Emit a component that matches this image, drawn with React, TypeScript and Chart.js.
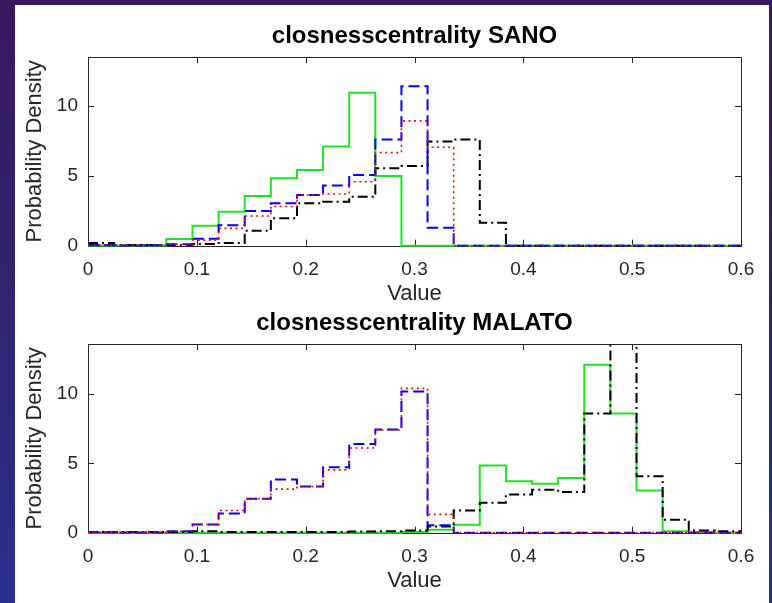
import React, { useEffect, useRef } from "react";
import { Chart, registerables } from "chart.js";

Chart.register(...registerables);

// Histogram bin edges (25 bins of width 0.024 between 0 and 0.6)
const binEdges = [0, 0.024, 0.048, 0.072, 0.096, 0.12, 0.144, 0.168, 0.192, 0.216, 0.24, 0.264, 0.288, 0.312, 0.336, 0.36, 0.384, 0.408, 0.432, 0.456, 0.48, 0.504, 0.528, 0.552, 0.576, 0.6];
const xTicks = [0, 0.1, 0.2, 0.3, 0.4, 0.5, 0.6];
const yTicks = [0, 5, 10];

// closnesscentrality SANO — density per bin
const sanoGreen = [0.02, 0.02, 0.02, 0.48, 1.43, 2.43, 3.56, 4.82, 5.42, 7.09, 10.95, 4.99, 0, 0, 0, 0, 0, 0, 0, 0, 0, 0, 0, 0, 0];
const sanoBlue = [0.05, 0.02, 0.03, 0.1, 0.5, 1.47, 2.48, 3.03, 3.63, 4.3, 5.06, 7.6, 11.4, 1.29, 0, 0, 0, 0, 0, 0, 0, 0, 0, 0, 0];
const sanoRed = [0.05, 0.02, 0.03, 0.08, 0.4, 1.24, 2.13, 2.8, 3.63, 3.7, 4.58, 6.66, 8.93, 7.04, 0, 0, 0, 0, 0, 0, 0, 0, 0, 0, 0];
const sanoBlack = [0.2, 0.05, 0.05, 0.05, 0.12, 0.2, 1.07, 1.96, 3.03, 3.15, 3.5, 5.54, 5.7, 7.45, 7.6, 1.65, 0, 0, 0, 0, 0, 0, 0, 0, 0];

// closnesscentrality MALATO — density per bin
const malatoGreen = [0, 0, 0, 0, 0, 0, 0, 0, 0, 0, 0, 0, 0.05, 0.22, 0.58, 4.84, 3.71, 3.52, 3.95, 12.1, 8.6, 3.04, 0.1, 0.05, 0];
const malatoBlue = [0.03, 0.02, 0.02, 0.1, 0.6, 1.39, 2.45, 3.83, 3.33, 4.72, 6.4, 7.44, 10.17, 0.53, 0, 0, 0, 0, 0, 0, 0, 0, 0, 0, 0];
const malatoRed = [0.03, 0.02, 0.02, 0.1, 0.6, 1.6, 2.45, 3.14, 3.33, 4.53, 6.1, 7.4, 10.4, 1.32, 0, 0, 0, 0, 0, 0, 0, 0, 0, 0, 0];
const malatoBlack = [0.05, 0.05, 0.05, 0.05, 0.1, 0.05, 0.05, 0.05, 0.05, 0.05, 0.08, 0.1, 0.15, 0.45, 1.6, 2.15, 2.75, 3.1, 2.93, 8.6, 13.9, 4.07, 0.94, 0.15, 0.1];

const FONT = "'Liberation Sans', Arial, Helvetica, sans-serif";
const TEXT = "#262626";

function stepPoints(values: number[]) {
  const pts = values.map((v, i) => ({ x: binEdges[i], y: v }));
  pts.push({ x: binEdges[binEdges.length - 1], y: values[values.length - 1] });
  return pts;
}

function makeDatasets(green: number[], blue: number[], red: number[], black: number[]) {
  const base = {
    stepped: "before" as const,
    pointRadius: 0,
    fill: false,
    tension: 0,
    clip: { left: 2, right: 2, bottom: 3, top: 0 },
  };
  return [
    { ...base, data: stepPoints(red), borderColor: "#ff0000", borderWidth: 1.6, borderDash: [2, 3.5] },
    { ...base, data: stepPoints(blue), borderColor: "#0000ff", borderWidth: 2, borderDash: [11, 5] },
    { ...base, data: stepPoints(black), borderColor: "#000000", borderWidth: 2, borderDash: [10, 4, 2, 4] },
    { ...base, data: stepPoints(green), borderColor: "#22e022", borderWidth: 2 },
  ];
}

function makeBoxPlugin(title: string) {
  return {
    id: "matlabBox",
    beforeDatasetsDraw(chart: any) {
      const { ctx, chartArea, scales } = chart;
      const { left, right, top, bottom } = chartArea;
      ctx.save();
      ctx.strokeStyle = TEXT;
      ctx.lineWidth = 1;
      ctx.strokeRect(Math.round(left) + 0.5, Math.round(top) + 0.5, Math.round(right - left), Math.round(bottom - top));
      ctx.beginPath();
      for (const v of xTicks) {
        const px = Math.round(scales.x.getPixelForValue(v)) + 0.5;
        ctx.moveTo(px, bottom);
        ctx.lineTo(px, bottom - 6);
        ctx.moveTo(px, top);
        ctx.lineTo(px, top + 6);
      }
      for (const v of yTicks) {
        const py = Math.round(scales.y.getPixelForValue(v)) + 0.5;
        ctx.moveTo(left, py);
        ctx.lineTo(left + 6, py);
        ctx.moveTo(right, py);
        ctx.lineTo(right - 6, py);
      }
      ctx.stroke();
      ctx.restore();
    },
    afterDraw(chart: any) {
      const { ctx, chartArea } = chart;
      ctx.save();
      ctx.fillStyle = "#000000";
      ctx.font = `bold 24px ${FONT}`;
      ctx.textAlign = "center";
      ctx.textBaseline = "alphabetic";
      ctx.fillText(title, (chartArea.left + chartArea.right) / 2, chartArea.top - 14);
      ctx.restore();
    },
  };
}

function HistChart(props: { title: string; yMax: number; green: number[]; blue: number[]; red: number[]; black: number[]; top: number }) {
  const ref = useRef<HTMLCanvasElement | null>(null);
  useEffect(() => {
    if (!ref.current) return;
    const chart = new Chart(ref.current, {
      type: "line",
      data: { datasets: makeDatasets(props.green, props.blue, props.red, props.black) as any },
      options: {
        responsive: false,
        animation: false,
        events: [],
        layout: { padding: { top: 52, right: 27, left: 0, bottom: 0 } },
        plugins: { legend: { display: false }, tooltip: { enabled: false }, title: { display: false } },
        scales: {
          x: {
            type: "linear",
            min: 0,
            max: 0.6,
            afterBuildTicks: (s: any) => {
              s.ticks = xTicks.map((v) => ({ value: v }));
            },
            afterFit: (s: any) => {
              s.height = 69.3;
            },
            grid: { display: false, drawTicks: false },
            border: { display: false },
            ticks: {
              autoSkip: false,
              maxRotation: 0,
              padding: 13,
              color: TEXT,
              font: { family: FONT, size: 19 },
              callback: (v: any) => String(v),
            },
            title: {
              display: true,
              text: "Value",
              color: TEXT,
              font: { family: FONT, size: 22 },
              padding: { top: 0, bottom: 8 },
            },
          },
          y: {
            type: "linear",
            min: 0,
            max: props.yMax,
            afterBuildTicks: (s: any) => {
              s.ticks = yTicks.map((v) => ({ value: v }));
            },
            afterFit: (s: any) => {
              s.width = 73;
            },
            grid: { display: false, drawTicks: false },
            border: { display: false },
            ticks: {
              autoSkip: false,
              padding: 10,
              color: TEXT,
              font: { family: FONT, size: 19 },
              callback: (v: any) => String(v),
            },
            title: {
              display: true,
              text: "Probability Density",
              color: TEXT,
              font: { family: FONT, size: 22 },
              padding: { top: 7, bottom: 0 },
            },
          },
        },
      },
      plugins: [makeBoxPlugin(props.title)],
    });
    return () => chart.destroy();
  }, []);
  return (
    <canvas
      ref={ref}
      width={753}
      height={310}
      style={{ position: "absolute", left: 15, top: props.top, width: 753, height: 310 }}
    />
  );
}

export default function App() {
  return (
    <div
      style={{
        position: "fixed",
        left: 0,
        top: 0,
        width: 772,
        height: 603,
        overflow: "hidden",
        background: "linear-gradient(to bottom, #3a1860 0%, #302572 50%, #2a2f8e 100%)",
      }}
    >
      <div style={{ position: "absolute", left: 15, top: 5, width: 754, height: 598, background: "#ffffff" }} />
      <HistChart title="closnesscentrality SANO" yMax={13.5} green={sanoGreen} blue={sanoBlue} red={sanoRed} black={sanoBlack} top={5} />
      <HistChart title="closnesscentrality MALATO" yMax={13.6} green={malatoGreen} blue={malatoBlue} red={malatoRed} black={malatoBlack} top={292} />
    </div>
  );
}
